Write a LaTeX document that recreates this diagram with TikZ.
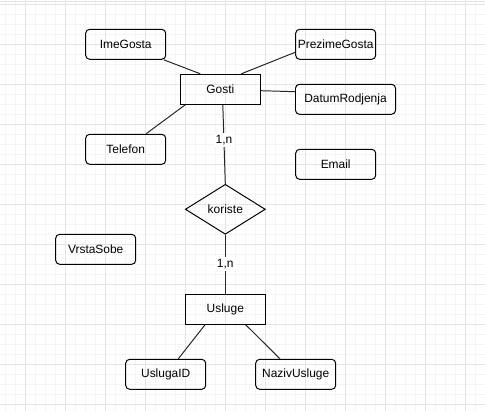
\documentclass[tikz,border=0pt]{standalone}
\usepackage{fontspec}
\setmainfont{Liberation Sans}
\usepackage{xcolor}
\usetikzlibrary{shapes.geometric, calc}

\definecolor{gridminor}{HTML}{F4F4F4}
\definecolor{gridmajor}{HTML}{E4E4E4}

\begin{document}
\begin{tikzpicture}[
  x=0.025cm, y=-0.025cm,
  font=\fontsize{8.5pt}{10pt}\selectfont,
  entity/.style={rectangle, draw=black, line width=0.7pt, minimum width=2cm, minimum height=0.75cm, inner sep=1pt},
  attr/.style={entity, rounded corners=0.1cm},
  relation/.style={diamond, draw=black, line width=0.7pt, shape aspect=1.6, minimum width=2cm, minimum height=1.25cm, inner sep=0pt},
  link/.style={draw=black!85, line width=0.7pt},
  card/.style={fill=white, inner sep=1.5pt}
]
  \useasboundingbox (0,0) rectangle (485,411);

  % Background grid
  \fill[white] (0,0) rectangle (485,411);
  \foreach \gx in {5.5,15.5,...,485} \draw[gridminor, line width=0.5pt] (\gx,0) -- (\gx,411);
  \foreach \gy in {4.3,14.3,...,411} \draw[gridminor, line width=0.5pt] (0,\gy) -- (485,\gy);
  \foreach \gx in {25.5,65.5,...,485} \draw[gridmajor, line width=0.6pt] (\gx,0) -- (\gx,411);
  \foreach \gy in {4.3,44.3,...,411} \draw[gridmajor, line width=0.6pt] (0,\gy) -- (485,\gy);
  \draw[gridmajor, line width=0.7pt] (0,1.5) -- (485,1.5);

  % Entity Gosti and its attributes
  \node[entity] (gosti) at (220.3,89.3) {Gosti};
  \node[attr] (imegosta) at (125.7,44.3) {ImeGosta};
  \node[attr] (prezimegosta) at (335.7,44.3) {PrezimeGosta};
  \node[attr, minimum width=2.5cm] (datumrodjenja) at (345.5,99.3) {DatumRodjenja};
  \node[attr] (telefon) at (125.7,149.3) {Telefon};
  \node[attr] (email) at (335.7,164.3) {Email};

  % Relationship
  \node[relation] (koriste) at (225.3,209.3) {koriste};

  % Loose attribute
  \node[attr] (vrstasobe) at (95.7,249.3) {VrstaSobe};

  % Entity Usluge and its attributes
  \node[entity] (usluge) at (225.3,309.3) {Usluge};
  \node[attr] (uslugaid) at (165.7,374.3) {UslugaID};
  \node[attr] (nazivusluge) at (295.7,374.3) {NazivUsluge};

  % Attribute lines of Gosti
  \draw[link] ($(imegosta.south east)+(-2.5,0)$) -- ($(gosti.north)+(-20,0)$);
  \draw[link] ($(prezimegosta.west)+(0,8)$) -- ($(gosti.north)+(21,0)$);
  \draw[link] ($(gosti.east)+(0,1.4)$) -- ($(datumrodjenja.west)+(0,-7.6)$);
  \draw[link] ($(telefon.north)+(20.3,0)$) -- ($(gosti.south)+(-35,0)$);

  % Relationship lines
  \draw[link] ($(gosti.south)+(2.5,0)$) -- node[card, pos=0.45] {1,n} (koriste.north);
  \draw[link] (koriste.south) -- node[card] {1,n} (usluge.north);

  % Attribute lines of Usluge
  \draw[link] ($(usluge.south)+(-20.3,0)$) -- ($(uslugaid.north)+(12.6,0)$);
  \draw[link] ($(usluge.south)+(20.4,0)$) -- ($(nazivusluge.north)+(-15.7,0)$);
\end{tikzpicture}
\end{document}
